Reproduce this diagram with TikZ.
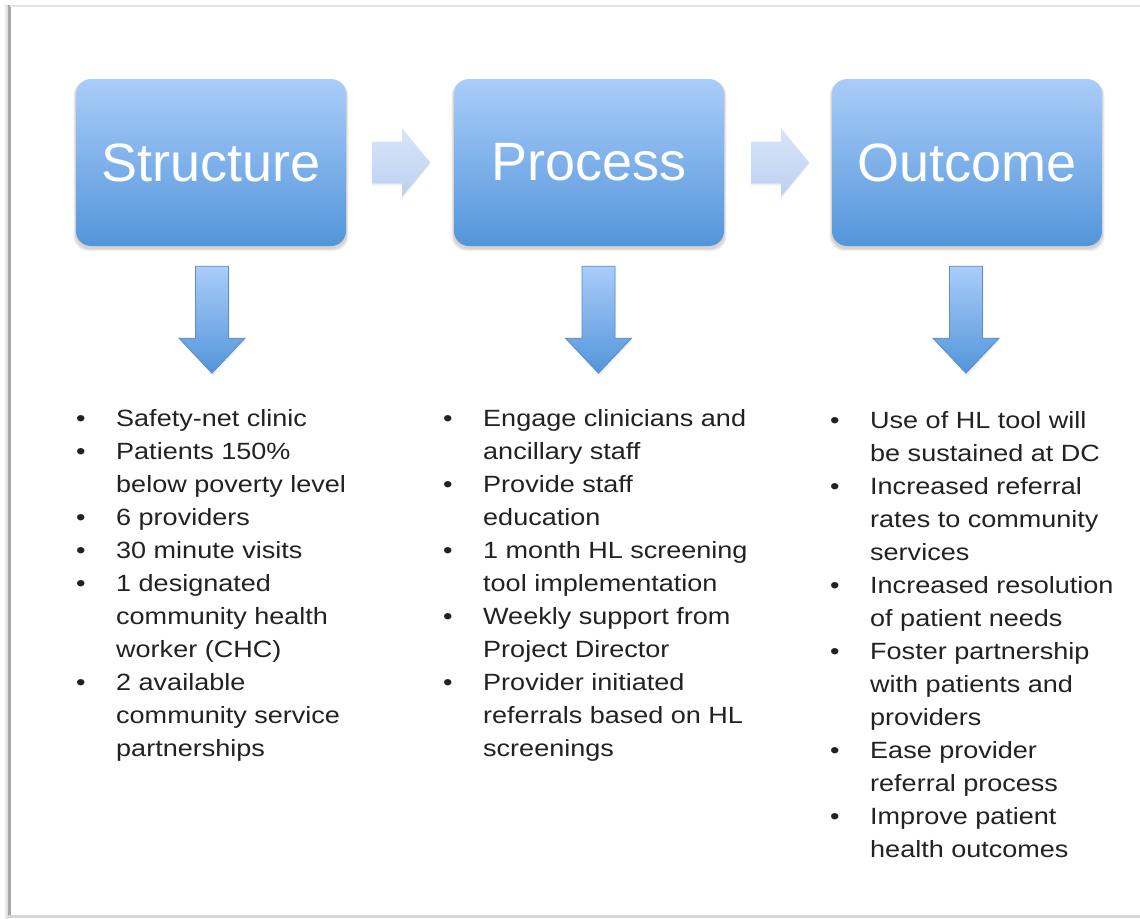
\documentclass[tikz,border=0pt]{standalone}
\usepackage{fontspec}
\setmainfont{Liberation Sans}
\newfontfamily\bodyfont[FakeStretch=1.15]{Liberation Sans}
\usetikzlibrary{calc,backgrounds}

\definecolor{boxtop}{RGB}{170,205,250}
\definecolor{boxbot}{RGB}{83,149,218}
\definecolor{pointtop}{RGB}{216,229,248}
\definecolor{pointbot}{RGB}{188,209,240}
\definecolor{downedge}{RGB}{92,140,202}
\definecolor{bodytext}{RGB}{34,34,34}
\definecolor{frameline}{RGB}{168,168,168}
\definecolor{frametop}{RGB}{228,228,228}
\definecolor{framebot}{RGB}{214,214,214}

% one bullet point with a hanging indent
\newcommand\bitem[1]{\par\hangindent=40pt\hangafter=1\noindent\makebox[40pt][l]{\textbullet}#1\par}
% a column of bullet points, its baseline on the first line
\newcommand\bulletcol[1]{\vtop{\hsize=340pt\parskip=0pt\parindent=0pt
  \leftskip=0pt\rightskip=0pt plus 1fil\parfillskip=0pt plus 1fil
  \bodyfont\fontsize{23.5}{33}\selectfont\spaceskip=7.5pt plus 2pt minus 1pt
  #1}}

\tikzset{
  stagebox/.style={rounded corners=15pt, top color=boxtop, bottom color=boxbot,
    minimum width=270pt, minimum height=167pt, inner sep=0pt,
    font=\fontsize{54}{60}\selectfont, text=white},
  listcol/.style={anchor=base west, inner sep=0pt, text=bodytext},
  nextarrow/.style={top color=pointtop, bottom color=pointbot},
  downarrow/.style={top color=boxtop, bottom color=boxbot, draw=downedge, line width=0.8pt},
  softshadow/.style={fill=black, opacity=0.06}
}

% horizontal block arrow, tail centre at the scope origin
\newcommand\nextstep[1]{%
  \begin{scope}[shift={(#1)}]
    \fill[softshadow] (0,-19) -- (30,-19) -- (30,-32) -- (58,2) -- (30,36) -- (30,23) -- (0,23) -- cycle;
    \path[nextarrow] (0,-21) -- (30,-21) -- (30,-34) -- (58,0) -- (30,34) -- (30,21) -- (0,21) -- cycle;
  \end{scope}}

% vertical block arrow, top centre at the scope origin
\newcommand\downstep[1]{%
  \begin{scope}[shift={(#1)}]
    \fill[softshadow] (-15.5,2) -- (17.5,2) -- (17.5,74) -- (34,74) -- (1,110) -- (-32,74) -- (-15.5,74) -- cycle;
    \path[downarrow] (-16.5,0) -- (16.5,0) -- (16.5,72) -- (33,72) -- (0,107) -- (-33,72) -- (-16.5,72) -- cycle;
  \end{scope}}

\begin{document}
\begin{tikzpicture}[x=1pt,y=-1pt]
\useasboundingbox (0,0) rectangle (1140,918);

% stage boxes
\node[stagebox] (s) at (211,162.5) {Structure};
\node[stagebox] (p) at (589,162.5) {Process};
\node[stagebox] (o) at (967,162.5) {Outcome};

% arrows between the stages
\nextstep{$(s.east)+(26,0)$}
\nextstep{$(p.east)+(27,0)$}

% arrows down to the lists
\downstep{$(s.south)+(1,20)$}
\downstep{$(p.south)+(9.5,20)$}
\downstep{$(o.south)+(-1,20)$}

% bullet lists
\node[listcol] (l1) at (76,426) {\bulletcol{%
  \bitem{Safety-net clinic}
  \bitem{Patients 150\%\newline below poverty level}
  \bitem{6 providers}
  \bitem{30 minute visits}
  \bitem{1 designated\newline community health\newline worker (CHC)}
  \bitem{2 available\newline community service\newline partnerships}}};

\node[listcol] (l2) at (443,426) {\bulletcol{%
  \bitem{Engage clinicians and\newline ancillary staff}
  \bitem{Provide staff\newline education}
  \bitem{1 month HL screening\newline tool implementation}
  \bitem{Weekly support from\newline Project Director}
  \bitem{Provider initiated\newline referrals based on HL\newline screenings}}};

\node[listcol] (l3) at (830,428) {\bulletcol{%
  \bitem{Use of HL tool will\newline be sustained at DC}
  \bitem{Increased referral\newline rates to community\newline services}
  \bitem{Increased resolution\newline of patient needs}
  \bitem{Foster partnership\newline with patients and\newline providers}
  \bitem{Ease provider\newline referral process}
  \bitem{Improve patient\newline health outcomes}}};

% page, frame and box shadows behind everything
\begin{scope}[on background layer]
  \fill[white] (0,0) rectangle (1140,918);
  \shade[left color=white, right color=framebot] (3,5) rectangle (8,918);
  \fill[frameline] (8,5) rectangle (10.5,918);
  \fill[frametop] (10,4.5) rectangle (1140,6.5);
  \fill[framebot] (8,914.5) rectangle (1140,918);
  \foreach \n in {s,p,o}{
    \foreach \k in {1,...,5}{
      \fill[black, opacity=0.035, rounded corners=15pt]
        ($(\n.south west)+(-0.5*\k,2+0.6*\k)$) rectangle ($(\n.north east)+(0.5*\k,2)$);
    }
  }
\end{scope}
\end{tikzpicture}
\end{document}
